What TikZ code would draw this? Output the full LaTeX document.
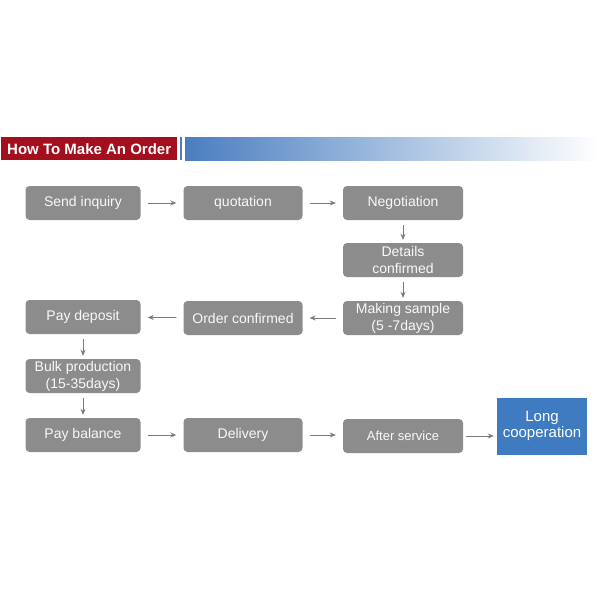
\documentclass[tikz,border=0pt]{standalone}
\usepackage{fontspec}
\setmainfont{Liberation Sans}
\usetikzlibrary{arrows.meta}
\definecolor{boxgray}{HTML}{8C8C8C}
\definecolor{hdred}{HTML}{A30F1C}
\definecolor{hdblue}{HTML}{4A7EC0}
\definecolor{lcblue}{HTML}{3F7BC1}
\definecolor{arrgray}{HTML}{7A7A7A}
\begin{document}
\begin{tikzpicture}[x=1pt,y=-1pt,
  stepbox/.style={draw=none,fill=boxgray,rounded corners=4pt,text=white!95!gray,
    align=center,inner sep=0pt,font=\fontsize{14}{17}\selectfont},
  conn/.style={draw=arrgray,line width=0.8pt,-{Stealth[length=6pt,width=5pt]},shorten >=7pt,shorten <=7pt},
  vconn/.style={conn,shorten >=3pt,shorten <=5pt}]
\useasboundingbox (0,0) rectangle (600,600);
\fill[white] (0,0) rectangle (600,600);
% header
\shade[left color=hdblue,right color=white] (185,137) rectangle (600,160);
\fill[hdblue] (180,137) rectangle (182,160);
\node[fill=hdred,minimum width=176pt,minimum height=23pt,inner sep=0pt,anchor=north west,
  text=white,font=\bfseries\fontsize{15}{16}\selectfont] (hdr) at (1,137) {How To Make An Order};
% boxes
\node[stepbox,minimum width=115pt,minimum height=34pt] (send) at (83,203) {Send inquiry};
\node[stepbox,minimum width=119pt,minimum height=34pt] (quot) at (243,203) {quotation};
\node[stepbox,minimum width=120pt,minimum height=34pt] (nego) at (403,203) {Negotiation};
\node[stepbox,minimum width=120pt,minimum height=34pt] (det) at (403,260) {Details\\confirmed};
\node[stepbox,minimum width=120pt,minimum height=34pt] (samp) at (403,318) {Making sample\\(5 -7days)};
\node[stepbox,minimum width=119pt,minimum height=34pt] (ordc) at (243,318) {Order confirmed};
\node[stepbox,minimum width=115pt,minimum height=34pt] (dep) at (83,317) {Pay deposit};
\node[stepbox,minimum width=115pt,minimum height=34pt] (bulk) at (83,376) {Bulk production\\(15-35days)};
\node[stepbox,minimum width=115pt,minimum height=34pt] (bal) at (83,435) {Pay balance};
\node[stepbox,minimum width=119pt,minimum height=34pt] (deliv) at (243,435) {Delivery};
\node[stepbox,minimum width=120pt,minimum height=34pt,font=\fontsize{13}{14}\selectfont] (after) at (403,436) {After service};
\node[fill=lcblue,minimum width=90pt,minimum height=57pt,inner sep=0pt,align=center,
  text=white,font=\fontsize{15}{16}\selectfont] (long) at (542,426) {Long\\cooperation};
% connectors
\draw[conn] (send) -- (quot);
\draw[conn] (quot) -- (nego);
\draw[vconn] (nego) -- (det);
\draw[vconn] (det) -- (samp);
\draw[conn] (samp) -- (ordc);
\draw[conn] (ordc) -- (dep);
\draw[vconn] (dep) -- (bulk);
\draw[vconn] (bulk) -- (bal);
\draw[conn] (bal) -- (deliv);
\draw[conn] (deliv.east) -- (after.west|-deliv.east);
\draw[conn,shorten <=3pt,shorten >=3pt] (after) -- (long.west|-after.east);
\end{tikzpicture}
\end{document}
